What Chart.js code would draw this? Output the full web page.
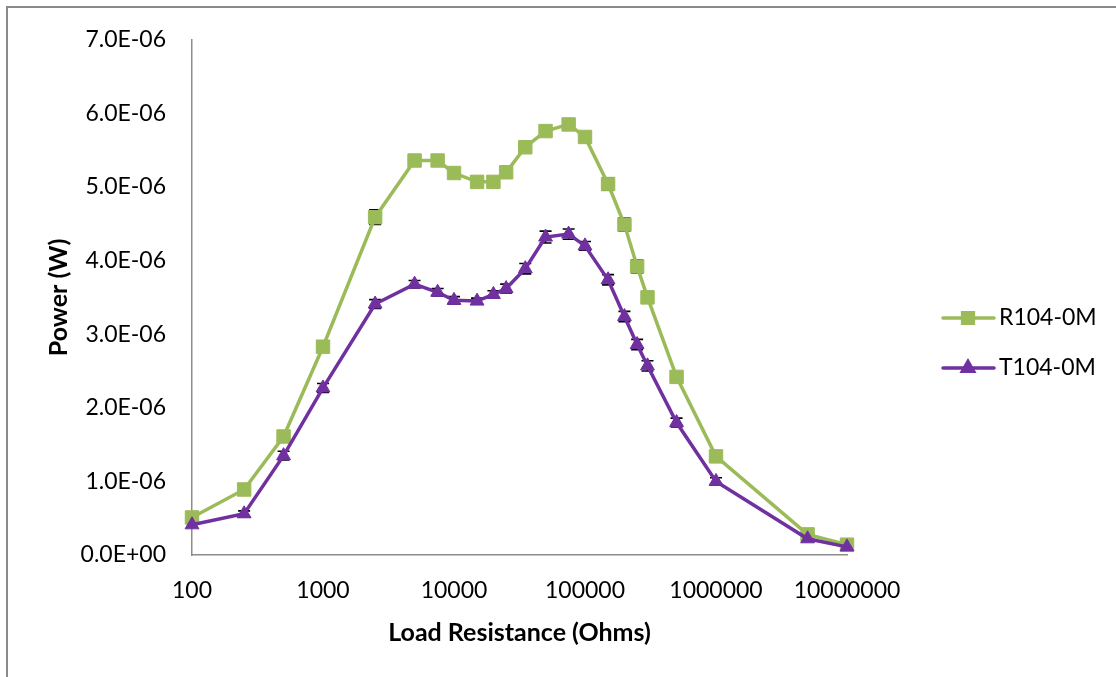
<!DOCTYPE html>
<html>
<head>
<meta charset="utf-8">
<title>Power vs Load Resistance</title>
<script src="https://cdn.jsdelivr.net/npm/chart.js@4/dist/chart.umd.min.js"></script>
<style>
  html, body { margin: 0; padding: 0; background: #fff; overflow: hidden; }
  #wrap { position: relative; width: 1116px; height: 677px; }
  #frame {
    position: absolute; left: 6px; top: 6px; width: 1300px; height: 900px;
    border-left: 2px solid #8a8a8a; border-top: 2px solid #8a8a8a;
    pointer-events: none;
  }
</style>
</head>
<body>
<div id="wrap">
  <canvas id="chart" width="1116" height="677"></canvas>
  <div id="frame"></div>
</div>
<script>
// Load resistance sweep (Ohms)
const loadOhms = [100, 250, 500, 1000, 2500, 5000, 7500, 10000, 15000, 20000, 25000, 35000,
  50000, 75000, 100000, 150000, 200000, 250000, 300000, 500000, 1000000, 5000000, 10000000];

// Output power (W)
const powerR = [0.51e-6, 0.89e-6, 1.61e-6, 2.83e-6, 4.59e-6, 5.36e-6, 5.36e-6, 5.19e-6, 5.07e-6,
  5.07e-6, 5.20e-6, 5.54e-6, 5.76e-6, 5.85e-6, 5.68e-6, 5.04e-6, 4.49e-6, 3.92e-6, 3.50e-6,
  2.42e-6, 1.34e-6, 0.28e-6, 0.14e-6];
const powerT = [0.41e-6, 0.56e-6, 1.35e-6, 2.27e-6, 3.41e-6, 3.68e-6, 3.57e-6, 3.46e-6, 3.45e-6,
  3.54e-6, 3.62e-6, 3.89e-6, 4.32e-6, 4.36e-6, 4.20e-6, 3.74e-6, 3.24e-6, 2.86e-6, 2.57e-6,
  1.80e-6, 1.00e-6, 0.22e-6, 0.11e-6];

// Standard error on each reading (W)
const errR = [0.02e-6, 0.03e-6, 0.03e-6, 0.04e-6, 0.10e-6, 0.03e-6, 0.03e-6, 0.03e-6, 0.03e-6,
  0.03e-6, 0.03e-6, 0.03e-6, 0.03e-6, 0.03e-6, 0.07e-6, 0.08e-6, 0.09e-6, 0.09e-6, 0.08e-6,
  0.03e-6, 0.03e-6, 0.02e-6, 0.02e-6];
const errT = [0.03e-6, 0.04e-6, 0.06e-6, 0.06e-6, 0.06e-6, 0.05e-6, 0.05e-6, 0.05e-6, 0.04e-6,
  0.05e-6, 0.06e-6, 0.07e-6, 0.08e-6, 0.07e-6, 0.06e-6, 0.07e-6, 0.07e-6, 0.07e-6, 0.07e-6,
  0.06e-6, 0.05e-6, 0.02e-6, 0.02e-6];

const seriesNames = ['R104-0M', 'T104-0M'];
const xTicks = [100, 1000, 10000, 100000, 1000000, 10000000];

const GREEN = '#9BBB59';
const PURPLE = '#7030A0';

Chart.defaults.font.family = 'Lato, "Open Sans", sans-serif';
Chart.defaults.font.size = 23;
Chart.defaults.color = '#000';

// "7.0E-06" style labels
function sci(v) {
  if (v === 0) return '0.0E+00';
  const [m, e] = v.toExponential(1).toUpperCase().split('E');
  const n = parseInt(e, 10);
  return m + 'E' + (n < 0 ? '-' : '+') + String(Math.abs(n)).padStart(2, '0');
}

// vertical error bars with small caps, drawn under the series
const errorBars = {
  id: 'errorBars',
  beforeDatasetsDraw(chart) {
    const c = chart.ctx;
    const y = chart.scales.y;
    c.save();
    c.strokeStyle = '#000';
    c.lineWidth = 1.6;
    chart.data.datasets.forEach((ds, di) => {
      const meta = chart.getDatasetMeta(di);
      meta.data.forEach((pt, i) => {
        const v = ds.data[i].y, e = ds.errors[i];
        const top = y.getPixelForValue(v + e);
        const bot = y.getPixelForValue(v - e);
        c.beginPath();
        c.moveTo(pt.x, top); c.lineTo(pt.x, bot);
        c.moveTo(pt.x - 6, top); c.lineTo(pt.x + 6, top);
        c.moveTo(pt.x - 6, bot); c.lineTo(pt.x + 6, bot);
        c.stroke();
      });
    });
    c.restore();
  }
};

// line-with-marker legend on the right
const sideLegend = {
  id: 'sideLegend',
  afterDraw(chart) {
    const c = chart.ctx;
    const rows = [318, 368];
    chart.data.datasets.forEach((ds, i) => {
      const yy = rows[i];
      c.save();
      c.strokeStyle = ds.borderColor;
      c.lineWidth = ds.borderWidth;
      c.lineCap = 'round';
      c.beginPath();
      c.moveTo(943, yy); c.lineTo(994, yy);
      c.stroke();
      c.fillStyle = ds.pointBackgroundColor;
      c.strokeStyle = ds.pointBorderColor;
      Chart.helpers.drawPoint(c, {
        pointStyle: ds.pointStyle, radius: ds.pointRadius * 0.8, rotation: 0, borderWidth: 1
      }, 968, yy);
      c.fillStyle = '#000';
      c.font = '23px Lato, "Open Sans", sans-serif';
      c.textAlign = 'left';
      c.textBaseline = 'middle';
      c.fillText(ds.label, 999, yy);
      c.restore();
    });
  }
};

function points(vals) {
  return loadOhms.map((r, i) => ({ x: r, y: vals[i] }));
}

new Chart(document.getElementById('chart'), {
  type: 'line',
  data: {
    datasets: [
      {
        label: seriesNames[0],
        data: points(powerR),
        errors: errR,
        borderColor: GREEN,
        borderWidth: 3.5,
        pointStyle: 'rect',
        pointRadius: 9.5,
        pointBackgroundColor: GREEN,
        pointBorderColor: GREEN,
        pointBorderWidth: 1,
        tension: 0,
        clip: false,
        order: 2
      },
      {
        label: seriesNames[1],
        data: points(powerT),
        errors: errT,
        borderColor: PURPLE,
        borderWidth: 3.5,
        pointStyle: 'triangle',
        pointRadius: 8,
        pointBackgroundColor: PURPLE,
        pointBorderColor: PURPLE,
        pointBorderWidth: 1,
        tension: 0,
        clip: false,
        order: 1
      }
    ]
  },
  options: {
    responsive: false,
    animation: false,
    layout: { padding: { left: 0, top: 37, right: 269, bottom: 0 } },
    plugins: {
      legend: { display: false },
      tooltip: { enabled: false }
    },
    scales: {
      x: {
        type: 'logarithmic',
        min: 100,
        max: 10000000,
        afterBuildTicks: s => { s.ticks = xTicks.map(v => ({ value: v })); },
        afterFit: s => { s.height = 122; },
        ticks: {
          autoSkip: false,
          maxRotation: 0,
          padding: 22,
          callback: v => String(v)
        },
        grid: { display: false, drawTicks: false },
        border: { display: true, color: '#8c8c8c', width: 1.5 },
        title: {
          display: true,
          text: 'Load Resistance (Ohms)',
          font: { weight: 'bold', size: 25 },
          padding: { top: 0, bottom: 29 }
        }
      },
      y: {
        min: 0,
        max: 7e-6,
        afterFit: s => { s.width = 192; },
        ticks: {
          stepSize: 1e-6,
          padding: 26,
          callback: v => sci(v)
        },
        grid: { display: false, drawTicks: false },
        border: { display: true, color: '#8c8c8c', width: 1.5 },
        title: {
          display: true,
          text: 'Power (W)',
          font: { weight: 'bold', size: 25 },
          padding: { top: 44, bottom: 0 }
        }
      }
    }
  },
  plugins: [errorBars, sideLegend]
});
</script>
</body>
</html>
